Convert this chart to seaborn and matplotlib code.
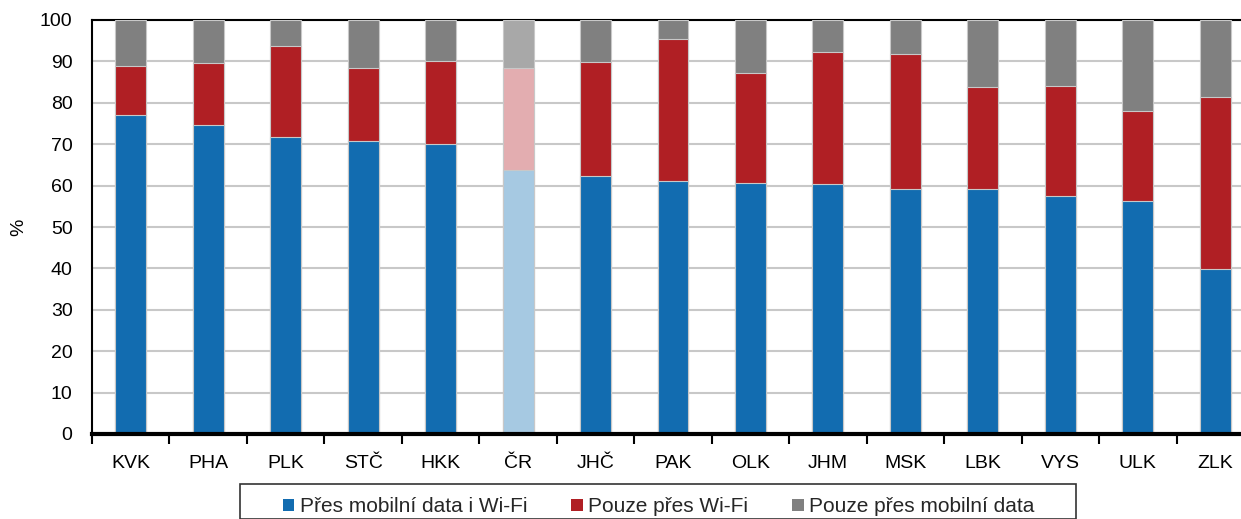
import matplotlib
matplotlib.use("Agg")
import matplotlib.pyplot as plt
from matplotlib.patches import Rectangle, Patch
import seaborn as sns
import numpy as np

# Regions (ČR = national average)
regions = ["KVK", "PHA", "PLK", "STČ", "HKK", "ČR", "JHČ", "PAK", "OLK",
           "JHM", "MSK", "LBK", "VYS", "ULK", "ZLK"]

# Shares in % of users
mobile_and_wifi = [77.1, 74.7, 71.7, 70.7, 70.0, 63.8, 62.2, 61.2, 60.7,
                   60.5, 59.1, 59.1, 57.4, 56.4, 39.9]
wifi_only = [11.9, 14.8, 22.1, 17.8, 20.2, 24.6, 27.6, 34.1, 26.6,
             31.7, 32.8, 24.6, 26.7, 21.7, 41.5]
mobile_only = [11.0, 10.5, 6.2, 11.5, 9.8, 11.6, 10.2, 4.7, 12.7,
               7.8, 8.1, 16.3, 15.9, 21.9, 18.6]

series_names = ["Přes mobilní data i Wi-Fi", "Pouze přes Wi-Fi",
                "Pouze přes mobilní data"]

BLUE, RED, GREY = "#126CB0", "#B01F24", "#808080"
LBLUE, LRED, LGREY = "#A6C9E2", "#E3ADB0", "#A8A8A8"

sns.set_theme(style="white")
plt.rcParams["font.family"] = ["Liberation Sans", "DejaVu Sans"]

fig = plt.figure(figsize=(12.41, 5.19), dpi=100)
W, H = 1241, 519
ax_left, ax_right, ax_top, ax_bottom = 92, 1254, 20, 434
ax = fig.add_axes([ax_left / W, 1 - ax_bottom / H,
                   (ax_right - ax_left) / W, (ax_bottom - ax_top) / H])

blue = np.array(mobile_and_wifi)
red = np.array(wifi_only)
grey = np.array(mobile_only)
tops = [blue + red + grey, blue + red, blue]
base_cols = [GREY, RED, BLUE]
light_cols = [LGREY, LRED, LBLUE]

for vals, c, lc in zip(tops, base_cols, light_cols):
    pal = [lc if r == "ČR" else c for r in regions]
    sns.barplot(x=regions, y=vals, hue=regions, palette=pal, legend=False,
                width=0.4, edgecolor="#c8c8c8", linewidth=0.8,
                saturation=1, ax=ax, zorder=3)

ax.set_xlim(-0.5, len(regions) - 0.5)
ax.set_ylim(0, 100)
ax.set_yticks(range(0, 101, 10))
ax.yaxis.grid(True, color="#c8c8c8", linewidth=1.5, zorder=0)
ax.set_axisbelow(True)

ax.set_xticks(np.arange(len(regions)))
ax.set_xticklabels(regions)
ax.set_xticks(np.arange(-0.5, len(regions), 1), minor=True)
ax.tick_params(axis="x", which="major", length=0, pad=15, labelsize=14,
               colors="black")
ax.tick_params(axis="x", which="minor", length=7, width=1.5,
               direction="out", color="black", bottom=True)
ax.tick_params(axis="y", length=0, pad=14, labelsize=14, colors="black")
ax.set_ylabel("%", fontsize=14, color="black", labelpad=9)
ax.set_xlabel("")

for side in ["top", "left"]:
    ax.spines[side].set_visible(True)
    ax.spines[side].set_color("black")
    ax.spines[side].set_linewidth(1.5)
ax.spines["bottom"].set_color("black")
ax.spines["bottom"].set_linewidth(3)
ax.spines["bottom"].set_zorder(5)
ax.spines["right"].set_visible(False)

# Legend frame and entries
fig.patches.append(Rectangle((240 / W, 0), (1076 - 240) / W,
                             1 - 484 / H, transform=fig.transFigure,
                             fill=False, edgecolor="#333333",
                             linewidth=1.2))
handles = [Patch(facecolor=c, edgecolor="none") for c in [BLUE, RED, GREY]]
fig.legend(handles, series_names, loc="center left",
           bbox_to_anchor=(283 / W, 1 - 507 / H), ncol=3, frameon=False,
           fontsize=15, handlelength=0.55, handleheight=0.55,
           handletextpad=0.25, columnspacing=2.12, borderpad=0,
           borderaxespad=0)

fig.savefig("out.png", dpi=100)
